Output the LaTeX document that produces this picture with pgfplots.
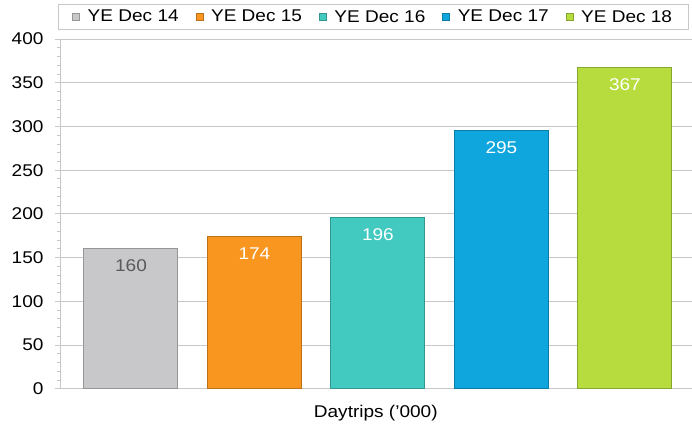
\documentclass[border=0pt]{standalone}
\usepackage{pgfplots}
\pgfplotsset{compat=1.18}
\usepackage{fontspec}
\setmainfont{Liberation Sans}[FakeStretch=1.12]
\definecolor{cgray}{RGB}{200,200,202}
\definecolor{corange}{RGB}{249,150,32}
\definecolor{cteal}{RGB}{66,201,192}
\definecolor{cblue}{RGB}{14,166,221}
\definecolor{cgreen}{RGB}{182,220,62}
\definecolor{gridc}{RGB}{200,200,200}
\begin{document}
\begin{tikzpicture}
\begin{axis}[
  name=ax,
  scale only axis,
  width=632pt, height=350pt,
  ybar, bar width=94pt, bar shift=0pt,
  xmin=-0.575, xmax=4.54,
  ymin=0, ymax=400,
  ytick={0,50,...,400},
  minor y tick num=4,
  xtick=\empty,
  ymajorgrids, major grid style={gridc, line width=0.8pt},
  axis line style={gridc, line width=0.8pt},
  axis x line*=bottom, axis y line*=left,
  y axis line style={-},
  x axis line style={-},
  tick style={gridc, line width=0.8pt},
  major tick length=5pt, minor tick length=3pt,
  tick align=outside,
  yticklabel style={font=\fontsize{17}{19}\selectfont, text=black, xshift=-8pt},
  /pgf/number format/assume math mode=true,
  xlabel={Daytrips ('000)},
  xlabel style={font=\fontsize{17}{19}\selectfont, yshift=-8pt},
  nodes near coords,
  every node near coord/.append style={anchor=north, yshift=-7pt, font=\fontsize{17}{19}\selectfont},
  legend columns=5,
  legend style={at={(0,1)}, anchor=south west, xshift=-2pt, yshift=9pt, draw=gridc, line width=0.8pt,
    font=\fontsize{17}{19}\selectfont, inner xsep=14pt, inner ysep=4pt,
    /tikz/every odd column/.append style={column sep=6pt},
    /tikz/every even column/.append style={column sep=15pt},
    text depth=0pt},
  legend image code/.code={\draw[#1, draw opacity=1, line width=0.4pt] (0pt,-3.5pt) rectangle (7pt,3.5pt);},
]
\addplot[fill=cgray, draw=cgray!75!black, line width=1pt, text=black!65] coordinates {(0,160)};
\addplot[fill=corange, draw=corange!75!black, line width=1pt, text=white] coordinates {(1,174)};
\addplot[fill=cteal, draw=cteal!75!black, line width=1pt, text=white] coordinates {(2,196)};
\addplot[fill=cblue, draw=cblue!75!black, line width=1pt, text=white] coordinates {(3,295)};
\addplot[fill=cgreen, draw=cgreen!75!black, line width=1pt, text=white] coordinates {(4,367)};
\legend{YE Dec 14, YE Dec 15, YE Dec 16, YE Dec 17, YE Dec 18}
\end{axis}
\path ([xshift=-60pt,yshift=-37pt]ax.south west) rectangle ([yshift=39pt]ax.north east);
\end{tikzpicture}
\end{document}
